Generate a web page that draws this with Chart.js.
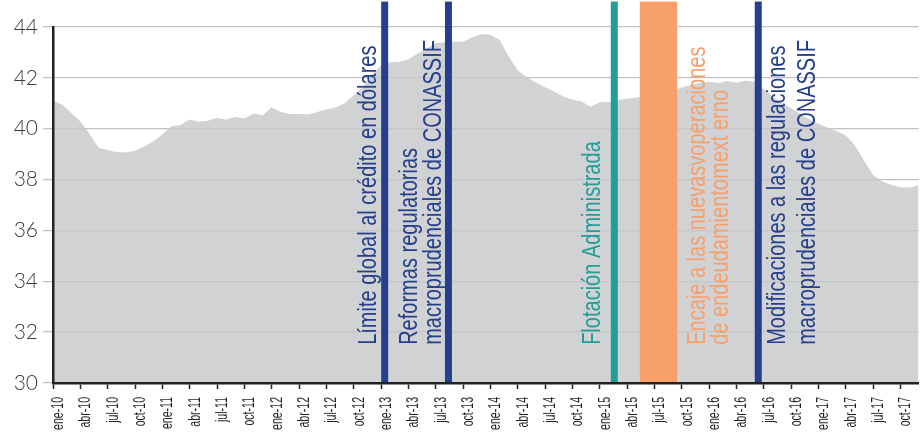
<!DOCTYPE html>
<html lang="es">
<head>
<meta charset="utf-8">
<title>Crédito en dólares</title>
<script src="https://cdn.jsdelivr.net/npm/chart.js@4.4.1/dist/chart.umd.min.js"></script>
<style>
  html, body { margin: 0; padding: 0; background: #ffffff; }
  #wrap { width: 922px; height: 434px; position: relative; }
</style>
</head>
<body>
<div id="wrap"><canvas id="chart"></canvas></div>
<script>
// Monthly categories, ene-10 … dic-17
const monthNames = ['ene','feb','mar','abr','may','jun','jul','ago','sep','oct','nov','dic'];
const yearSuffixes = ['10','11','12','13','14','15','16','17'];
const monthLabels = yearSuffixes.flatMap(y => monthNames.map(m => m + '-' + y));

// Share (%) — monthly series
const creditShare = [
  41.10, 40.95, 40.62, 40.28, 39.80, 39.25, 39.15, 39.08, 39.06, 39.13, 39.30, 39.50,
  39.77, 40.10, 40.15, 40.36, 40.27, 40.31, 40.43, 40.36, 40.46, 40.40, 40.60, 40.52,
  40.84, 40.66, 40.58, 40.58, 40.56, 40.66, 40.76, 40.83, 41.00, 41.32, 41.62, 42.12,
  42.50, 42.61, 42.62, 42.73, 42.95, 43.15, 43.36, 43.40, 43.42, 43.42, 43.60, 43.72,
  43.70, 43.50, 42.85, 42.30, 42.02, 41.82, 41.63, 41.45, 41.27, 41.14, 41.07, 40.86,
  41.04, 41.05, 41.13, 41.18, 41.22, 41.30, 41.36, 41.42, 41.50, 41.62, 41.73, 41.80,
  41.85, 41.80, 41.88, 41.82, 41.89, 41.85, 41.55, 41.26, 41.00, 40.80, 40.60, 40.37,
  40.20, 40.05, 39.90, 39.73, 39.35, 38.75, 38.18, 37.93, 37.80, 37.70, 37.68, 37.78
];

// Y axis range and tick step
const yMin = 30, yMax = 44, yStep = 2;

// Policy events (position on the month axis)
const eventMonths = [36.4, 43.4, 61.6, 77.4];
const encajeSpan = [64.4, 68.5];

// Annotation texts, one entry per event, one string per line
const eventTexts = [
  ['Límite global al crédito en dólares'],
  ['Reformas regulatorias', 'macroprudenciales de CONASSIF'],
  ['Flotación Administrada'],
  ['Encaje a las nuevasvoperaciones', 'de endeudamientomext erno'],
  ['Modificaciones a las regulaciones', 'macroprudenciales de CONASSIF']
];

// Drawing styles for the event marks
const BLUE = '#263f8c', TEAL = '#219e99', ORANGE = '#f7a06c';
const eventStyle = [
  { color: BLUE, width: 7 },
  { color: BLUE, width: 7 },
  { color: TEAL, width: 7 },
  { color: BLUE, width: 7 }
];
const textStyle = [
  { color: BLUE,   lines: [35.4] },
  { color: BLUE,   lines: [40.0, 42.6] },
  { color: TEAL,   lines: [60.0] },
  { color: ORANGE, lines: [71.6, 74.1] },
  { color: BLUE,   lines: [80.3, 83.6] }
];
const TEXT_FONT = '26px "Liberation Sans", Arial, sans-serif';
const TEXT_CONDENSE = 0.77;
const TEXT_START_VALUE = 31.5;
const MARK_TOP_VALUE = 45;

// Condensed month labels under the x axis
const TICK_FONT = '16px "Liberation Sans", Arial, sans-serif';
const TICK_CONDENSE = 0.66;
const TICK_GAP = 14;      // from axis line to the end of the label
const TICK_SHIFT = 10;    // baseline offset to the right of the tick

const eventPlugin = {
  id: 'eventMarks',
  afterDatasetsDraw(chart) {
    const { ctx, scales: { x, y } } = chart;
    const top = y.getPixelForValue(MARK_TOP_VALUE);
    const bottom = y.getPixelForValue(yMin);
    ctx.save();
    // orange band
    const bx0 = x.getPixelForValue(encajeSpan[0]);
    const bx1 = x.getPixelForValue(encajeSpan[1]);
    ctx.fillStyle = ORANGE;
    ctx.fillRect(bx0, top, bx1 - bx0, bottom - top);
    // vertical event lines
    eventMonths.forEach((m, i) => {
      const cx = x.getPixelForValue(m);
      const st = eventStyle[i];
      ctx.fillStyle = st.color;
      ctx.fillRect(cx - st.width / 2, top, st.width, bottom - top);
    });
    // rotated annotation texts
    const ty = y.getPixelForValue(TEXT_START_VALUE);
    ctx.font = TEXT_FONT;
    ctx.textAlign = 'left';
    ctx.textBaseline = 'alphabetic';
    eventTexts.forEach((lines, i) => {
      const st = textStyle[i];
      ctx.fillStyle = st.color;
      lines.forEach((txt, j) => {
        const bx = x.getPixelForValue(st.lines[j]);
        ctx.save();
        ctx.translate(bx, ty);
        ctx.rotate(-Math.PI / 2);
        ctx.scale(TEXT_CONDENSE, 1);
        ctx.fillText(txt, 0, 0);
        ctx.restore();
      });
    });
    ctx.restore();
  },
  afterDraw(chart) {
    const { ctx, scales: { x } } = chart;
    const ly = x.top + TICK_GAP;
    ctx.save();
    ctx.font = TICK_FONT;
    ctx.fillStyle = '#1e1e1e';
    ctx.textAlign = 'right';
    ctx.textBaseline = 'alphabetic';
    x.ticks.forEach((t, i) => {
      if (t.label === null || t.label === undefined || t.label === '') return;
      const px = x.getPixelForTick(i);
      ctx.save();
      ctx.translate(px + TICK_SHIFT, ly);
      ctx.rotate(-Math.PI / 2);
      ctx.scale(TICK_CONDENSE, 1);
      ctx.fillText(String(t.label), 0, 0);
      ctx.restore();
    });
    ctx.restore();
  }
};

new Chart(document.getElementById('chart'), {
  type: 'line',
  data: {
    labels: monthLabels,
    datasets: [{
      data: creditShare,
      fill: 'start',
      backgroundColor: 'rgba(197,199,201,0.8)',
      borderWidth: 0,
      pointRadius: 0,
      tension: 0
    }]
  },
  options: {
    responsive: true,
    maintainAspectRatio: false,
    animation: false,
    layout: { padding: { top: 27, right: 0, bottom: 0, left: 0 } },
    plugins: { legend: { display: false }, tooltip: { enabled: false } },
    scales: {
      x: {
        type: 'category',
        offset: false,
        border: { display: true, color: '#222222', width: 2.5, z: 1 },
        grid: {
          display: true,
          drawOnChartArea: false,
          drawTicks: true,
          tickLength: 6,
          tickColor: '#222222',
          tickWidth: 1.5
        },
        ticks: {
          autoSkip: false,
          maxRotation: 90,
          minRotation: 90,
          padding: 6,
          color: 'rgba(0,0,0,0)',
          font: { size: 13 },
          callback: (v, i) => (i % 3 === 0 ? monthLabels[i] : null)
        },
        afterFit: s => { s.height = 51; }
      },
      y: {
        min: yMin,
        max: yMax,
        border: { display: true, color: '#222222', width: 2.5, z: 1 },
        grid: {
          color: '#c2c2c2',
          lineWidth: 1.3,
          tickLength: 10,
          tickColor: '#c2c2c2'
        },
        ticks: {
          stepSize: yStep,
          padding: 5,
          color: '#3a3a3a',
          font: { family: 'Lato, "Open Sans", sans-serif', size: 21, weight: '300' }
        },
        afterFit: s => { s.width = 53; }
      }
    }
  },
  plugins: [eventPlugin]
});
</script>
</body>
</html>
